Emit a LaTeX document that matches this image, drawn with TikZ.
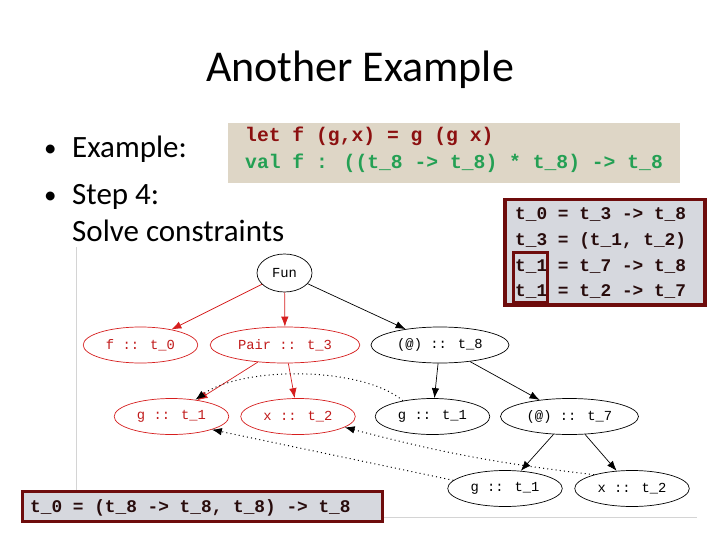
\documentclass[tikz,border=0pt]{standalone}
\usepackage{fontspec}
\setmainfont{Carlito}
\newfontfamily\codefont{Liberation Mono}
\usetikzlibrary{shapes.geometric,arrows.meta}
\definecolor{boxred}{RGB}{110,12,12}
\definecolor{boxgray}{RGB}{214,216,222}
\definecolor{codetan}{RGB}{222,214,198}
\definecolor{letred}{RGB}{140,16,16}
\definecolor{valgreen}{RGB}{36,160,84}
\definecolor{gvred}{RGB}{214,30,30}
\definecolor{boxtext}{RGB}{40,12,12}
\definecolor{framegray}{RGB}{212,212,212}

\begin{document}
\begin{tikzpicture}[x=1pt,y=-1pt,
 txt/.style={inner sep=0,anchor=base west},
 body/.style={txt,font=\fontsize{31}{34}\selectfont},
 bul/.style={txt,font=\fontsize{25}{28}\selectfont},
 code/.style={txt,font=\codefont\bfseries\fontsize{19.7}{22}\selectfont},
 cons/.style={txt,text=boxtext,font=\codefont\bfseries\fontsize{17.8}{20}\selectfont},
 tn/.style={ellipse,draw,inner xsep=6pt,inner ysep=2pt,minimum height=36pt,line width=0.7pt,font=\codefont\fontsize{13.8}{16}\selectfont},
 rn/.style={tn,draw=gvred,text=gvred!90!black},
 edge/.style={line width=0.7pt,-{Latex[length=10pt,width=7.5pt]}},
 redge/.style={edge,draw=gvred},
 dots/.style={edge,line width=1pt,dash pattern=on 1pt off 3.2pt}]
\useasboundingbox (0,0) rectangle (720,540);
\fill[white] (0,0) rectangle (720,540);
\draw[framegray,line width=1pt] (76,247) -- (76,491); \draw[framegray,line width=1pt] (383,517) -- (697,517);
\node[anchor=base,inner sep=0,font=\fontsize{44}{50}\selectfont] (title) at (360,81.7) {Another Example};
\node[bul] (b1) at (44,157) {•}; \node[body] (ex) at (72,158) {Example:};
\node[bul] (b2) at (44,204) {•}; \node[body] (step) at (72,205) {Step 4:};
\node[body] (solve) at (72,241.7) {Solve constraints};
\fill[codetan] (228,123) rectangle (680,183.5);
\node[code,text=letred] (let) at (245,142) {let f (g,x) = g (g x)};
\node[code,text=valgreen] (val) at (245,168.5) {val f : ((t\_8 -> t\_8) * t\_8) -> t\_8};
\draw[boxred,fill=boxgray,line width=3.5pt] (505,199.5) rectangle (705,305);
\node[cons] (c0) at (515,220) {t\_0 = t\_3 -> t\_8};
\node[cons] (c3) at (515,245.5) {t\_3 = (t\_1, t\_2)};
\node[cons] (c1a) at (515,271) {t\_1 = t\_7 -> t\_8};
\node[cons] (c1b) at (515,296.5) {t\_1 = t\_2 -> t\_7};
\draw[boxred,line width=3pt] (513.5,252.5) rectangle (547,302);
\draw[boxred,fill=boxgray,line width=3pt] (22.7,491.5) rectangle (382.7,521.5);
\node[cons] (t0) at (30,512) {t\_0 = (t\_8 -> t\_8, t\_8) -> t\_8};
\node[tn,minimum width=55pt,minimum height=38pt] (fun) at (284.5,273) {Fun};
\node[rn] (f0) at (140.5,345) {f :: t\_0};
\node[rn] (pair) at (285,345) {Pair :: t\_3};
\node[tn] (app8) at (440,345) {(@) :: t\_8};
\node[rn] (g1r) at (171.5,416.5) {g :: t\_1};
\node[rn] (x2r) at (298,416.5) {x :: t\_2};
\node[tn] (g1b) at (432.5,416.5) {g :: t\_1};
\node[tn] (app7) at (569.5,416.5) {(@) :: t\_7};
\node[tn] (g1c) at (505,488.5) {g :: t\_1};
\node[tn] (x2c) at (632,488.5) {x :: t\_2};
\draw[redge] (fun) -- (f0); \draw[redge] (fun) -- (pair); \draw[edge] (fun) -- (app8);
\draw[redge] (pair) -- (g1r); \draw[redge] (pair) -- (x2r);
\draw[edge] (app8) -- (g1b); \draw[edge] (app8) -- (app7);
\draw[edge] (app7) -- (g1c); \draw[edge] (app7) -- (x2c);
\draw[dots] (g1b.152) .. controls (362,366) and (242,366) .. (g1r.35);
\draw[dots] (g1c.171) -- (g1r.-18);
\draw[dots] (x2c.160) to[bend left=4] (x2r.-13);
\end{tikzpicture}
\end{document}
